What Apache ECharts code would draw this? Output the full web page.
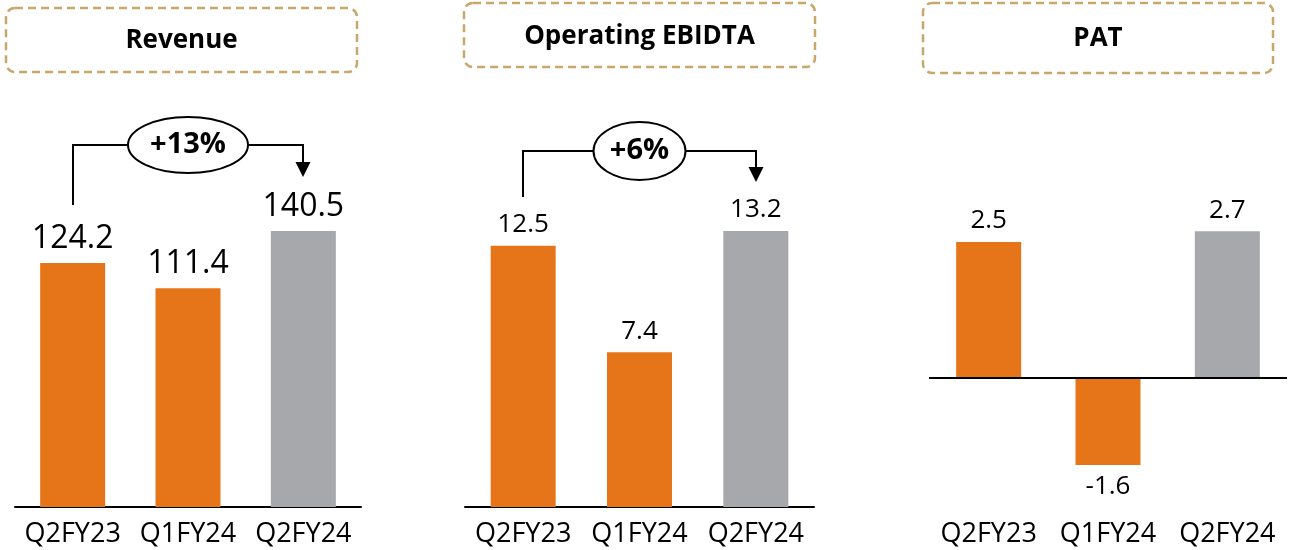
<!DOCTYPE html>
<html>
<head>
<meta charset="utf-8">
<script src="https://cdn.jsdelivr.net/npm/echarts@6/dist/echarts.min.js"></script>
<style>
  html, body { margin: 0; padding: 0; background: #ffffff; }
  #main { width: 1291px; height: 550px; }
</style>
</head>
<body>
<div id="main"></div>
<script>
// chart data
const categories = ['Q2FY23', 'Q1FY24', 'Q2FY24'];
const revenue = [124.2, 111.4, 140.5];
const ebidta = [12.5, 7.4, 13.2];
const pat = [2.5, -1.6, 2.7];
const titles = ['Revenue', 'Operating EBIDTA', 'PAT'];
const growthLabels = ['+13%', '+6%'];

const ORANGE = '#E67519';
const GREY = '#A7A8AB';
const BOX = '#C9A76C';
const FONT = '"Open Sans", sans-serif';

// layout of the three panels
const panels = [
  { data: revenue, left: 15, width: 346, min: 0, max: 207.2, labelSize: 32, zeroLine: false },
  { data: ebidta, left: 465, width: 349, min: 0, max: 19.47, labelSize: 26, zeroLine: false },
  { data: pat, left: 929, width: 358, min: -2.37, max: 5.11, labelSize: 26, zeroLine: true }
];

const boxes = [
  { x: 6, y: 8, w: 351, h: 64, ty: 41 },
  { x: 464, y: 3, w: 351, h: 64, ty: 37 },
  { x: 923, y: 3, w: 350, h: 70, ty: 39 }
];

// growth brackets (pixel levels for the annotation)
const brackets = [
  { series: 0, lineY: 145, leftEnd: 205, tip: 177, rx: 60, ry: 28 },
  { series: 1, lineY: 151, leftEnd: 197, tip: 182, rx: 46, ry: 29 }
];

const chart = echarts.init(document.getElementById('main'), null, { renderer: 'canvas' });

const option = {
  animation: false,
  backgroundColor: '#ffffff',
  grid: [],
  xAxis: [],
  yAxis: [],
  series: []
};

panels.forEach(function (p, i) {
  option.grid.push({ left: p.left, width: p.width, top: 100, bottom: 43 });
  option.xAxis.push({
    type: 'category',
    gridIndex: i,
    data: categories,
    axisLine: { show: !p.zeroLine, onZero: false, lineStyle: { color: '#000', width: 2 } },
    axisTick: { show: false },
    axisLabel: { interval: 0, color: '#000', fontSize: 27, fontFamily: FONT, margin: 14 }
  });
  option.yAxis.push({
    type: 'value',
    gridIndex: i,
    min: p.min,
    max: p.max,
    show: false,
    splitLine: { show: false }
  });
  const s = {
    type: 'bar',
    xAxisIndex: i,
    yAxisIndex: i,
    barWidth: 65,
    data: p.data.map(function (v, k) {
      return {
        value: v,
        itemStyle: { color: k === 2 ? GREY : ORANGE },
        label: { position: v < 0 ? 'bottom' : 'top' }
      };
    }),
    label: {
      show: true,
      distance: 8,
      color: '#000',
      fontSize: p.labelSize,
      fontFamily: FONT
    }
  };
  if (p.zeroLine) {
    s.markLine = {
      silent: true,
      symbol: ['none', 'none'],
      label: { show: false },
      lineStyle: { color: '#000', width: 2, type: 'solid' },
      data: [{ yAxis: 0 }]
    };
  }
  option.series.push(s);
});

chart.setOption(option);

// title boxes and growth brackets
const graphics = [];
boxes.forEach(function (b, i) {
  graphics.push({
    type: 'rect',
    shape: { x: b.x, y: b.y, width: b.w, height: b.h, r: 9 },
    style: { fill: 'none', stroke: BOX, lineWidth: 2.5, lineDash: [8, 5] }
  });
  graphics.push({
    type: 'text',
    x: b.x + b.w / 2,
    y: b.ty,
    style: {
      text: titles[i],
      fill: '#000',
      font: 'bold 26px ' + FONT,
      align: 'center',
      verticalAlign: 'middle'
    }
  });
});

brackets.forEach(function (br, i) {
  const p0 = chart.convertToPixel({ seriesIndex: br.series }, [categories[0], 0]);
  const p2 = chart.convertToPixel({ seriesIndex: br.series }, [categories[2], 0]);
  const x0 = Math.round(p0[0]);
  const x2 = Math.round(p2[0]);
  graphics.push({
    type: 'polyline',
    shape: { points: [[x0, br.leftEnd], [x0, br.lineY], [x2, br.lineY], [x2, br.tip - 12]] },
    style: { stroke: '#000', lineWidth: 2, fill: null }
  });
  graphics.push({
    type: 'polygon',
    shape: { points: [[x2 - 7.5, br.tip - 15], [x2 + 7.5, br.tip - 15], [x2, br.tip]] },
    style: { fill: '#000' }
  });
  graphics.push({
    type: 'ellipse',
    shape: { cx: (x0 + x2) / 2, cy: br.lineY, rx: br.rx, ry: br.ry },
    style: { fill: '#fff', stroke: '#000', lineWidth: 2 }
  });
  graphics.push({
    type: 'text',
    x: (x0 + x2) / 2,
    y: br.lineY,
    style: {
      text: growthLabels[i],
      fill: '#000',
      font: 'bold 29px ' + FONT,
      align: 'center',
      verticalAlign: 'middle'
    }
  });
});

chart.setOption({ graphic: graphics });
</script>
</body>
</html>
